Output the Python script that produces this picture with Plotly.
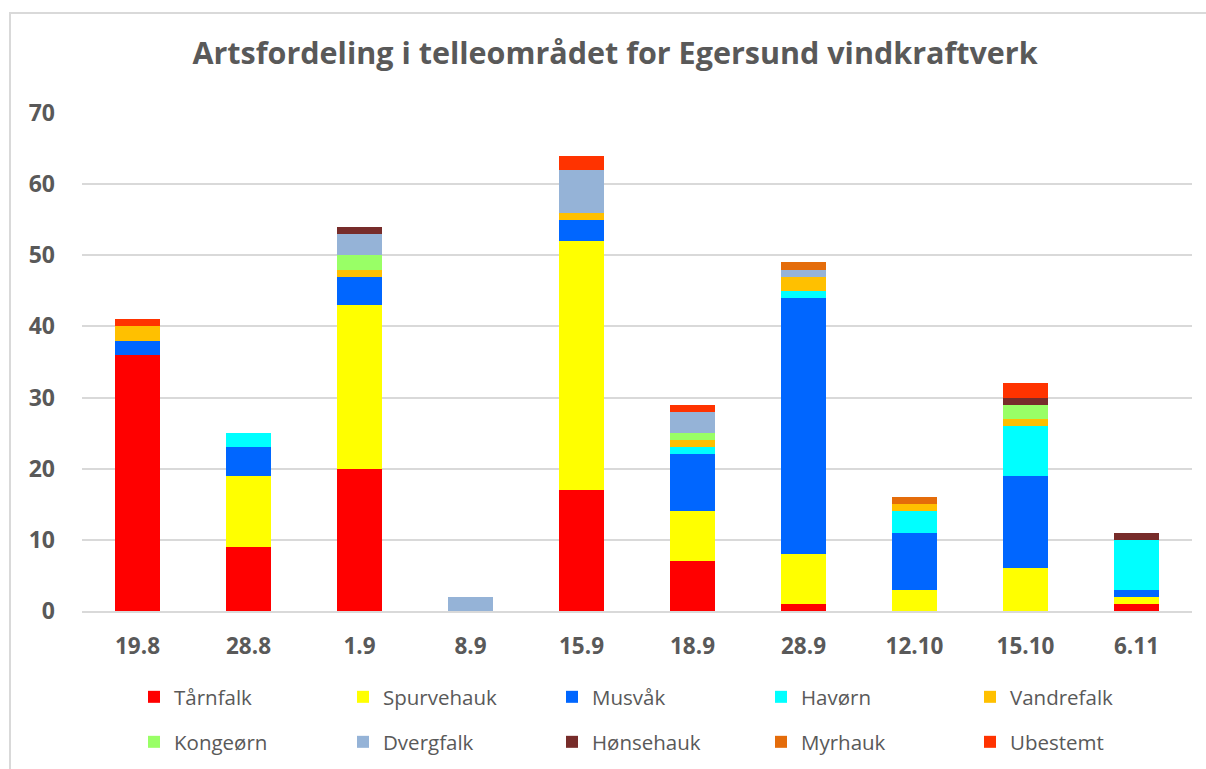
import plotly.graph_objects as go

dates = ["19.8", "28.8", "1.9", "8.9", "15.9", "18.9", "28.9", "12.10", "15.10", "6.11"]

tarnfalk   = [36, 9, 20, 0, 17, 7, 1, 0, 0, 1]
spurvehauk = [0, 10, 23, 0, 35, 7, 7, 3, 6, 1]
musvak     = [2, 4, 4, 0, 3, 8, 36, 8, 13, 1]
havorn     = [0, 2, 0, 0, 0, 1, 1, 3, 7, 7]
vandrefalk = [2, 0, 1, 0, 1, 1, 2, 1, 1, 0]
kongeorn   = [0, 0, 2, 0, 0, 1, 0, 0, 2, 0]
dvergfalk  = [0, 0, 3, 2, 6, 3, 1, 0, 0, 0]
honsehauk  = [0, 0, 1, 0, 0, 0, 0, 0, 1, 1]
myrhauk    = [0, 0, 0, 0, 0, 0, 1, 1, 0, 0]
ubestemt   = [1, 0, 0, 0, 2, 1, 0, 0, 2, 0]

series = [
    ("Tårnfalk", tarnfalk, "#FF0000"),
    ("Spurvehauk", spurvehauk, "#FFFF00"),
    ("Musvåk", musvak, "#0066FF"),
    ("Havørn", havorn, "#00FFFF"),
    ("Vandrefalk", vandrefalk, "#FFC000"),
    ("Kongeørn", kongeorn, "#99FF66"),
    ("Dvergfalk", dvergfalk, "#95B3D7"),
    ("Hønsehauk", honsehauk, "#772C2A"),
    ("Myrhauk", myrhauk, "#E46C0A"),
    ("Ubestemt", ubestemt, "#FF3300"),
]

FONT = "Open Sans"
GREY = "#595959"

W, H = 1206, 769
ml, mr, mt, mb = 82, 14, 113, 158
pw, ph = W - ml - mr, H - mt - mb

fig = go.Figure()
for i, (name, vals, col) in enumerate(series):
    fig.add_trace(go.Bar(
        x=dates, y=vals, name=name,
        marker=dict(color=col, line=dict(width=0)),
        legend="legend" if i < 5 else "legend2",
    ))

leg_common = dict(
    orientation="h",
    xanchor="left", yanchor="top",
    entrywidth=164, entrywidthmode="pixels",
    font=dict(family=FONT, size=20.5, color=GREY),
    itemwidth=30,
    traceorder="normal",
    bgcolor="rgba(0,0,0,0)",
)
leg_x = (134 - ml) / pw

fig.update_layout(
    width=W, height=H,
    barmode="stack",
    bargap=0.6,
    plot_bgcolor="white",
    paper_bgcolor="white",
    margin=dict(l=ml, r=mr, t=mt, b=mb, autoexpand=False),
    font=dict(family=FONT, color=GREY),
    title=dict(
        text="Artsfordeling i telleområdet for Egersund vindkraftverk",
        font=dict(family=FONT, size=30.5, color=GREY, weight="bold"),
        x=0.51, xref="container", xanchor="center",
        y=0.931, yref="container", yanchor="middle",
    ),
    yaxis=dict(
        range=[0, 70], dtick=10,
        showgrid=True, gridcolor="#D9D9D9", gridwidth=2,
        zeroline=False, showline=False,
        tickfont=dict(family=FONT, size=23, color=GREY, weight="bold"),
        ticklabelstandoff=26,
    ),
    xaxis=dict(
        showline=True, linecolor="#D9D9D9", linewidth=2,
        tickfont=dict(family=FONT, size=22.5, color=GREY, weight="bold"),
        ticks="", ticklabelstandoff=14,
    ),
    legend=dict(leg_common, x=leg_x, y=(H - mb - 677) / ph),
    legend2=dict(leg_common, x=leg_x, y=(H - mb - 722) / ph),
)

# outer chart border (left and top edges visible)
fig.add_shape(
    type="rect", xref="paper", yref="paper",
    x0=(10 - ml) / pw, x1=(W + 10 - ml) / pw,
    y0=(H - mb - (H + 10)) / ph, y1=(H - mb - 13) / ph,
    line=dict(color="#D9D9D9", width=2), fillcolor="rgba(0,0,0,0)",
    layer="below",
)

fig.write_html(
    "out.html",
    config={"displayModeBar": False},
    post_script="document.body.style.margin='0';",
)
